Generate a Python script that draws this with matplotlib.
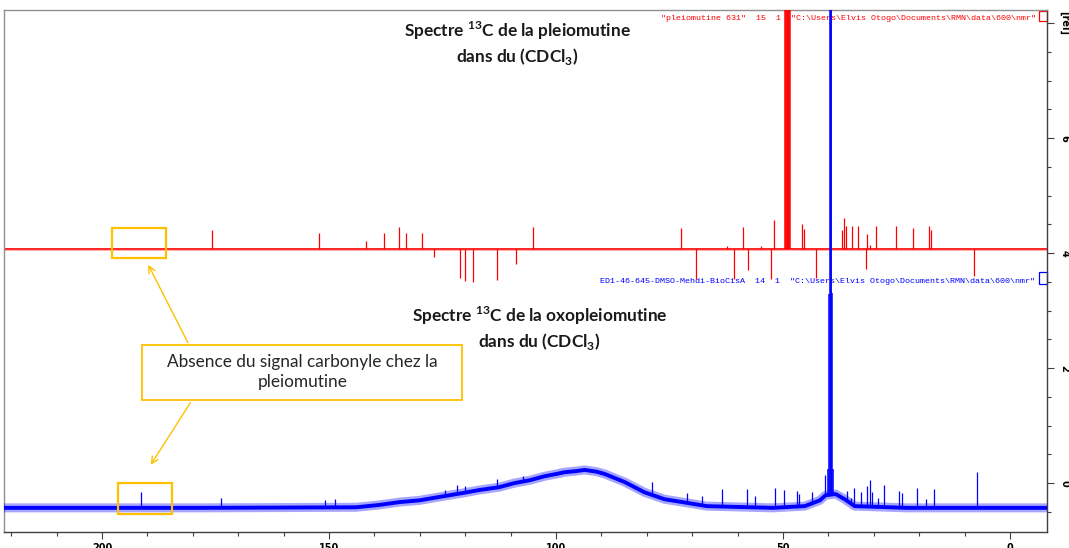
import numpy as np
import matplotlib
matplotlib.use("Agg")
import matplotlib.pyplot as plt
from matplotlib.patches import Rectangle

plt.rcParams['mathtext.fontset'] = 'custom'
plt.rcParams['mathtext.rm'] = 'Lato'
plt.rcParams['mathtext.bf'] = 'Lato:bold'

# ---------------- data ----------------
# red spectrum (pleiomutine): baseline level and peaks (ppm, intensity relative to baseline)
red_base = 4.07
red_ppm = [175.8, 152.2, 141.9, 137.9, 134.6, 133.0, 129.5, 126.9, 121.1, 120.0,
           118.3, 113.0, 108.8, 105.1, 72.5, 69.2, 62.3, 60.8, 58.8, 57.7,
           54.8, 52.6, 52.0, 45.8, 45.4, 42.8, 37.0, 36.6, 36.1, 34.8,
           33.5, 31.75, 31.6, 30.8, 29.5, 25.1, 21.4, 17.8, 17.4, 7.9]
red_int = [0.34, 0.28, 0.14, 0.28, 0.38, 0.28, 0.28, -0.14, -0.50, -0.55,
           -0.57, -0.53, -0.26, 0.38, 0.36, -0.52, 0.05, -0.52, 0.38, -0.36,
           0.05, -0.52, 0.50, 0.43, 0.35, -0.50, 0.34, 0.55, 0.40, 0.40,
           0.40, -0.35, 0.26, 0.07, 0.40, 0.41, 0.36, 0.41, 0.34, -0.47]
red_solvent_ppm = [49.45, 49.3, 49.15, 49.0, 48.85, 48.7, 48.55]
red_solvent_int = [9.0, 9.0, 9.0, 9.0, 9.0, 9.0, 9.0]

# blue spectrum (oxopleiomutine): baseline read at points (ppm, level)
blue_base_ppm = [221.8, 178.6, 144.0, 139.0, 134.5, 130.1, 125.7, 120.4, 116.9, 112.5,
                 109.2, 105.8, 102.5, 99.9, 98.1, 95.5, 93.7, 91.1, 89.3, 87.1,
                 84.9, 80.5, 76.1, 70.6, 66.8, 52.3, 45.2, 41.9, 40.6, 38.4,
                 36.4, 34.2, 22.7, -8.2]
blue_base_val = [-0.43, -0.43, -0.42, -0.38, -0.33, -0.30, -0.24, -0.17, -0.12, -0.07,
                 0.00, 0.05, 0.12, 0.16, 0.19, 0.21, 0.23, 0.20, 0.16, 0.09,
                 0.02, -0.16, -0.28, -0.35, -0.40, -0.43, -0.40, -0.30, -0.21, -0.19,
                 -0.28, -0.40, -0.43, -0.43]
blue_ppm = [191.4, 173.8, 150.8, 148.6, 124.4, 121.9, 120.0, 112.9, 107.2, 78.9,
            71.2, 67.9, 63.5, 58.0, 56.2, 51.8, 49.8, 47.0, 46.5, 43.7,
            40.8, 35.9, 35.1, 34.4, 32.9, 31.5, 30.9, 30.4, 29.1, 27.8,
            24.5, 23.8, 20.5, 18.5, 16.8, 7.3]
blue_int = [0.28, 0.17, 0.12, 0.15, 0.10, 0.15, 0.12, 0.14, 0.10, 0.22,
            0.17, 0.17, 0.31, 0.31, 0.20, 0.34, 0.30, 0.27, 0.22, 0.20,
            0.36, 0.17, 0.10, 0.30, 0.25, 0.35, 0.47, 0.25, 0.15, 0.38,
            0.28, 0.25, 0.34, 0.16, 0.33, 0.62]
blue_solvent_ppm = [40.0, 39.8, 39.65, 39.5, 39.35, 39.2, 39.0]
blue_solvent_int = [0.45, 3.5, 9.0, 9.0, 9.0, 3.5, 0.45]

x_ticks = [200, 150, 100, 50, 0]
x_ticklabels = ['200', '150', '100', '50', '0']
y_ticks = [0, 2, 4, 6, 8]
y_ticklabels = ['0', '2', '4', '6', '[rel]']

red_label = '"pleiomutine 631"  15  1  "C:\\Users\\Elvis Otogo\\Documents\\RMN\\data\\600\\nmr"'
blue_label = 'ED1-46-645-DMSO-Mehdi-BioCisA  14  1  "C:\\Users\\Elvis Otogo\\Documents\\RMN\\data\\600\\nmr"'
title1 = "Spectre $^{\\mathbf{13}}$C de la pleiomutine\ndans du (CDCl$_{\\mathbf{3}}$)"
title2 = "Spectre $^{\\mathbf{13}}$C de la oxopleiomutine\ndans du (CDCl$_{\\mathbf{3}}$)"
note = "Absence du signal carbonyle chez la\npleiomutine"

# ---------------- figure ----------------
W, H = 1069, 548
fig = plt.figure(figsize=(W / 100, H / 100), dpi=100)
ax = fig.add_axes([4 / W, 16 / H, 1043 / W, 522 / H])
ax.set_xlim(221.6, -8.16)
ax.set_ylim(-0.85, 8.23)

RED = '#FF0000'
BLUE = '#0000FF'
ORANGE = '#FFC000'

# red spectrum
xl = ax.get_xlim()
ax.plot([xl[0], xl[1]], [red_base, red_base], color=RED, lw=2.2, alpha=0.3, solid_capstyle='butt', zorder=2)
ax.plot([xl[0], xl[1]], [red_base, red_base], color=RED, lw=1.1, solid_capstyle='butt', zorder=2)
rp = np.array(red_ppm)
ri = np.array(red_int)
ax.vlines(rp, red_base, red_base + ri, color=RED, lw=0.9, zorder=3)
ax.vlines(red_solvent_ppm, red_base, red_base + np.array(red_solvent_int), color=RED, lw=1.1, zorder=3)

# blue spectrum
bbp = np.array(blue_base_ppm)
bbv = np.array(blue_base_val)
ax.plot(bbp, bbv, color=BLUE, lw=6.5, alpha=0.35, solid_joinstyle='round', zorder=4)
ax.plot(bbp, bbv, color=BLUE, lw=2.8, solid_joinstyle='round', zorder=4)
bp = np.array(blue_ppm)
bi = np.array(blue_int)
bbase = np.interp(bp[::-1], bbp[::-1], bbv[::-1])[::-1]
ax.vlines(bp, bbase, bbase + bi, color=BLUE, lw=0.9, zorder=5)
sp = np.array(blue_solvent_ppm)
sbase = np.interp(sp[::-1], bbp[::-1], bbv[::-1])[::-1]
ax.vlines(sp, sbase, sbase + np.array(blue_solvent_int), color=BLUE, lw=1.1, zorder=5)

# labels of the spectra
ax.text(-5.7, 8.09, red_label, color=RED, fontsize=6, family='Liberation Mono',
        ha='right', va='center', zorder=1)
ax.add_patch(Rectangle((0.9923, 0.979), 0.0077, 0.019, transform=ax.transAxes,
                       fill=False, edgecolor=RED, lw=0.9, clip_on=False))
ax.text(-5.5, 3.51, blue_label, color=BLUE, fontsize=6, family='Liberation Mono',
        ha='right', va='center', zorder=1)
ax.add_patch(Rectangle((0.9923, 0.475), 0.0077, 0.023, transform=ax.transAxes,
                       fill=False, edgecolor=BLUE, lw=0.9, clip_on=False))

# titles
ax.text(108.5, 7.65, title1, fontsize=12.4, fontweight='bold', family='Lato',
        ha='center', va='center', linespacing=1.25, color='#1a1a1a', zorder=6)
ax.text(103.6, 2.70, title2, fontsize=12.4, fontweight='bold', family='Lato',
        ha='center', va='center', linespacing=1.25, color='#1a1a1a', zorder=6)

# orange boxes on the spectra
ax.add_patch(Rectangle((197.8, 3.91), 185.9 - 197.8, 4.43 - 3.91, fill=False,
                       edgecolor=ORANGE, lw=1.6, zorder=7))
ax.add_patch(Rectangle((196.5, -0.54), 184.6 - 196.5, 0.54, fill=False,
                       edgecolor=ORANGE, lw=1.6, zorder=7))

# annotation box
ax.add_patch(Rectangle((191.2, 1.44), 120.6 - 191.2, 2.40 - 1.44, facecolor='white',
                       edgecolor=ORANGE, lw=1.3, zorder=8))
ax.text(155.9, 1.93, note, fontsize=12.4, family='Lato', ha='center', va='center',
        linespacing=1.35, color='#262626', zorder=9)
ax.annotate('', xy=(190.1, 3.84), xytext=(180.8, 2.40),
            arrowprops=dict(arrowstyle='->', color=ORANGE, lw=1.0, mutation_scale=12), zorder=7)
ax.annotate('', xy=(189.6, 0.28), xytext=(180.2, 1.44),
            arrowprops=dict(arrowstyle='->', color=ORANGE, lw=1.0, mutation_scale=12), zorder=7)

# axes styling
for side in ['left', 'top']:
    ax.spines[side].set_color('#909090')
    ax.spines[side].set_linewidth(1.0)
for side in ['right', 'bottom']:
    ax.spines[side].set_color('#404040')
    ax.spines[side].set_linewidth(1.0)

ax.set_xticks(x_ticks)
ax.set_xticklabels(x_ticklabels, fontsize=7, fontweight='bold')
ax.set_xticks(np.arange(0, 221, 10), minor=True)
ax.tick_params(axis='x', which='major', direction='out', length=5, width=0.8,
               color='#404040', pad=3)
ax.tick_params(axis='x', which='minor', direction='out', length=3, width=0.8, color='#404040')
ax.text(-5.0, -1.13, '[ppm]', fontsize=7, fontweight='bold', ha='center', va='top', clip_on=False)

ax.yaxis.tick_right()
ax.set_yticks(y_ticks)
ax.set_yticklabels(y_ticklabels, fontsize=7, fontweight='bold', rotation=-90, va='center')
ax.set_yticks(np.arange(-0.5, 8.01, 0.5), minor=True)
ax.tick_params(axis='y', which='major', direction='out', length=5, width=0.8,
               color='#404040', pad=4, left=False)
ax.tick_params(axis='y', which='minor', direction='out', length=3, width=0.8,
               color='#404040', left=False)

fig.savefig('out.png', dpi=100)
